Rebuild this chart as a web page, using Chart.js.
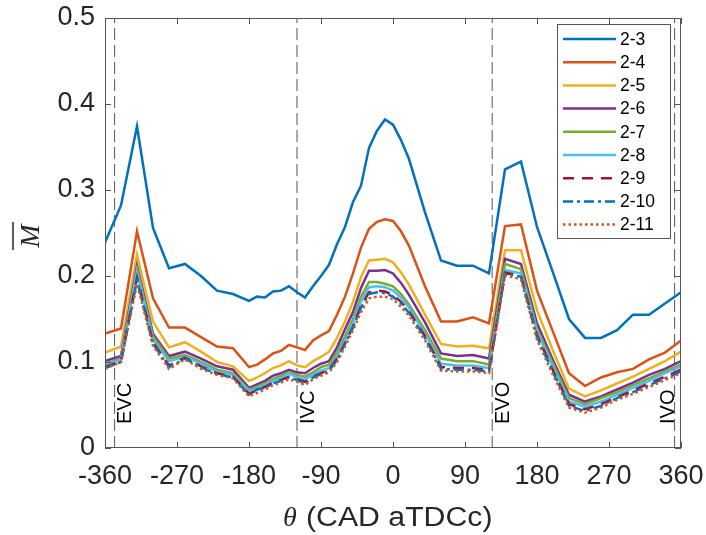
<!DOCTYPE html>
<html>
<head>
<meta charset="utf-8">
<script src="https://cdn.jsdelivr.net/npm/chart.js@4/dist/chart.umd.min.js"></script>
<style>
body{margin:0;background:#fff;}
canvas{display:block;}
</style>
</head>
<body>
<canvas id="chart" width="706" height="535"></canvas>
<script>

// crank angle (deg) for every sample
const theta = [-360,-340,-320,-300,-280,-260,-240,-220,-200,-180,-170,-160,-150,-140,-130,-120,-110,-100,-90,-80,-70,-60,-50,-40,-30,-20,-10,0,10,20,40,60,80,100,120,140,160,180,200,220,240,260,280,300,320,340,360];

const s2_3  = [0.239,0.282,0.374,0.256,0.209,0.214,0.200,0.183,0.179,0.171,0.176,0.175,0.182,0.183,0.188,0.181,0.175,0.188,0.200,0.213,0.237,0.257,0.286,0.305,0.349,0.369,0.382,0.376,0.358,0.336,0.274,0.218,0.212,0.212,0.203,0.324,0.333,0.257,0.204,0.150,0.128,0.128,0.137,0.155,0.155,0.168,0.181];
const s2_4  = [0.133,0.139,0.252,0.174,0.140,0.140,0.129,0.118,0.116,0.094,0.097,0.103,0.110,0.113,0.120,0.117,0.114,0.125,0.131,0.136,0.155,0.176,0.203,0.233,0.255,0.263,0.266,0.264,0.252,0.235,0.188,0.147,0.147,0.152,0.145,0.258,0.260,0.183,0.135,0.087,0.072,0.082,0.088,0.092,0.103,0.111,0.125];
const s2_5  = [0.111,0.118,0.225,0.147,0.117,0.123,0.112,0.100,0.095,0.078,0.082,0.087,0.093,0.096,0.101,0.096,0.094,0.101,0.106,0.112,0.128,0.147,0.170,0.199,0.218,0.219,0.220,0.216,0.204,0.190,0.155,0.121,0.118,0.119,0.116,0.230,0.230,0.160,0.113,0.069,0.060,0.067,0.075,0.083,0.092,0.101,0.112];
const s2_6  = [0.101,0.107,0.212,0.133,0.107,0.112,0.104,0.095,0.091,0.070,0.074,0.078,0.084,0.087,0.091,0.088,0.087,0.093,0.098,0.101,0.117,0.138,0.158,0.186,0.206,0.206,0.207,0.203,0.192,0.178,0.146,0.110,0.107,0.108,0.104,0.220,0.214,0.145,0.102,0.062,0.054,0.060,0.068,0.076,0.085,0.092,0.101];
const s2_7  = [0.098,0.104,0.208,0.130,0.104,0.108,0.100,0.091,0.087,0.068,0.071,0.075,0.080,0.084,0.088,0.085,0.083,0.088,0.094,0.097,0.111,0.130,0.150,0.176,0.193,0.193,0.191,0.188,0.179,0.167,0.137,0.104,0.101,0.101,0.097,0.214,0.208,0.139,0.098,0.058,0.051,0.058,0.065,0.073,0.081,0.089,0.097];
const s2_8  = [0.096,0.103,0.205,0.126,0.101,0.106,0.098,0.089,0.085,0.066,0.069,0.073,0.078,0.081,0.087,0.082,0.080,0.085,0.090,0.093,0.106,0.125,0.145,0.170,0.187,0.188,0.187,0.183,0.175,0.163,0.133,0.098,0.096,0.096,0.093,0.207,0.203,0.135,0.094,0.054,0.048,0.054,0.062,0.070,0.078,0.087,0.095];
const s2_9  = [0.094,0.101,0.198,0.123,0.096,0.105,0.095,0.087,0.083,0.063,0.067,0.071,0.076,0.079,0.083,0.080,0.077,0.083,0.087,0.091,0.104,0.122,0.141,0.165,0.181,0.183,0.182,0.178,0.170,0.159,0.130,0.094,0.093,0.093,0.090,0.204,0.200,0.131,0.090,0.051,0.045,0.051,0.059,0.067,0.075,0.083,0.091];
const s2_10 = [0.093,0.100,0.195,0.121,0.094,0.104,0.094,0.086,0.082,0.062,0.068,0.070,0.075,0.078,0.082,0.079,0.075,0.082,0.086,0.090,0.102,0.121,0.140,0.163,0.179,0.181,0.180,0.176,0.168,0.157,0.128,0.092,0.091,0.091,0.089,0.203,0.199,0.129,0.088,0.049,0.043,0.049,0.058,0.065,0.073,0.081,0.089];
const s2_11 = [0.092,0.100,0.191,0.119,0.092,0.103,0.092,0.085,0.081,0.060,0.064,0.068,0.073,0.076,0.080,0.077,0.073,0.080,0.084,0.088,0.100,0.118,0.137,0.158,0.174,0.176,0.176,0.173,0.164,0.154,0.125,0.090,0.089,0.089,0.087,0.201,0.196,0.126,0.085,0.047,0.041,0.047,0.056,0.063,0.071,0.079,0.087];

const seriesNames = ["2-3","2-4","2-5","2-6","2-7","2-8","2-9","2-10","2-11"];
const seriesValues = [s2_3,s2_4,s2_5,s2_6,s2_7,s2_8,s2_9,s2_10,s2_11];
const seriesColors = ["#0072BD","#D95319","#EDB120","#7E2F8E","#77AC30","#4DBEEE","#A2142F","#0072BD","#D95319"];
const seriesDash = [[],[],[],[],[],[],[11,8],[10,4,3,4],[2.5,3]];

const xTicks = [-360,-270,-180,-90,0,90,180,270,360];
const yTicks = [0,0.1,0.2,0.3,0.4,0.5];

// valve events
const eventTheta = [-348,-120,124,352];
const eventNames = ["EVC","IVC","EVO","IVO"];

const axisColor = "#262626";
const sans = "'Liberation Sans', Arial, sans-serif";
const serif = "'Liberation Serif', 'Times New Roman', serif";

const datasets = seriesValues.map((vals,i) => ({
    label:seriesNames[i],
    data:theta.map((t,k) => ({x:t,y:vals[k]})),
    borderColor:seriesColors[i],
    borderWidth:2.5,
    borderDash:seriesDash[i],
    pointRadius:0,
    fill:false,
    order:9 - i
}));

eventTheta.forEach(t => {
    datasets.push({
        label:"",
        isEvent:true,
        data:[{x:t,y:0},{x:t,y:0.5}],
        borderColor:"#555",
        borderWidth:1,
        borderDash:[12,5],
        pointRadius:0,
        order:20
    });
});

// box, inward ticks, event labels, legend and axis titles
const decorations = {
    id:"decorations",
    afterDraw(chart){
        const ctx = chart.ctx;
        const a = chart.chartArea;
        const xs = chart.scales.x;
        const ys = chart.scales.y;

        ctx.save();
        ctx.strokeStyle = "#555";
        ctx.lineWidth = 1;
        ctx.setLineDash([]);
        ctx.strokeRect(a.left + 0.5, a.top + 0.5, a.right - a.left - 1, a.bottom - a.top - 1);

        ctx.beginPath();
        xTicks.forEach(v => {
            const px = Math.round(xs.getPixelForValue(v)) + 0.5;
            ctx.moveTo(px, a.bottom);
            ctx.lineTo(px, a.bottom - 6);
            ctx.moveTo(px, a.top);
            ctx.lineTo(px, a.top + 6);
        });
        yTicks.forEach(v => {
            const py = Math.round(ys.getPixelForValue(v)) + 0.5;
            ctx.moveTo(a.left, py);
            ctx.lineTo(a.left + 6, py);
            ctx.moveTo(a.right, py);
            ctx.lineTo(a.right - 6, py);
        });
        ctx.stroke();

        // event labels, rotated
        ctx.fillStyle = "#000";
        ctx.font = "20px " + sans;
        ctx.textBaseline = "middle";
        ctx.textAlign = "left";
        eventNames.forEach((name,i) => {
            const px = xs.getPixelForValue(eventTheta[i]);
            const off = i === 3 ? -6 : 11;
            ctx.save();
            ctx.translate(px + off, 424);
            ctx.rotate(-Math.PI / 2);
            ctx.fillText(name, 0, 0);
            ctx.restore();
        });

        // legend
        const lx = 557, ly = 24, lw = 113, lh = 214;
        ctx.fillStyle = "#fff";
        ctx.fillRect(lx, ly, lw, lh);
        ctx.strokeStyle = "#555";
        ctx.lineWidth = 1;
        ctx.strokeRect(lx + 0.5, ly + 0.5, lw, lh);
        ctx.font = "17.5px " + sans;
        ctx.fillStyle = "#000";
        chart.data.datasets.forEach((ds,i) => {
            if(ds.isEvent) return;
            const y = 39 + 23.2 * i;
            ctx.strokeStyle = ds.borderColor;
            ctx.lineWidth = 2.5;
            ctx.setLineDash(ds.borderDash);
            ctx.beginPath();
            ctx.moveTo(563, y);
            ctx.lineTo(616, y);
            ctx.stroke();
            ctx.setLineDash([]);
            ctx.fillText(ds.label, 620, y + 1);
        });

        // x title: italic theta + text (slightly widened like the original)
        ctx.textBaseline = "alphabetic";
        ctx.fillStyle = "#262626";
        ctx.font = "italic 28px " + serif;
        ctx.fillText("\u03B8", 283, 526);
        ctx.save();
        ctx.translate(306, 526);
        ctx.scale(1.12, 1);
        ctx.font = "27px " + sans;
        ctx.fillText("(CAD aTDCc)", 0, 0);
        ctx.restore();

        // y title: M with overline, rotated
        ctx.save();
        ctx.translate(39, 236);
        ctx.rotate(-Math.PI / 2);
        ctx.font = "italic 28px " + serif;
        ctx.textAlign = "center";
        ctx.fillText("M", 0, 0);
        ctx.strokeStyle = "#262626";
        ctx.lineWidth = 1.5;
        ctx.beginPath();
        ctx.moveTo(-14, -26);
        ctx.lineTo(14, -26);
        ctx.stroke();
        ctx.restore();

        ctx.restore();
    }
};

new Chart(document.getElementById("chart"), {
    type:"line",
    data:{datasets:datasets},
    options:{
        responsive:false,
        animation:false,
        devicePixelRatio:1,
        layout:{padding:{top:18,right:25,left:0,bottom:0}},
        plugins:{legend:{display:false},tooltip:{enabled:false}},
        scales:{
            x:{
                type:"linear",
                min:-360,
                max:360,
                afterBuildTicks:s => { s.ticks = xTicks.map(v => ({value:v})); },
                afterFit:s => { s.height = 87; s.paddingLeft = 0; s.paddingRight = 0; },
                grid:{display:false,drawTicks:false},
                border:{display:false},
                ticks:{
                    color:axisColor,
                    font:{size:27,family:sans},
                    padding:12,
                    maxRotation:0,
                    callback:v => String(v)
                }
            },
            y:{
                min:0,
                max:0.5,
                afterBuildTicks:s => { s.ticks = yTicks.map(v => ({value:v})); },
                afterFit:s => { s.width = 105; s.paddingTop = 0; s.paddingBottom = 0; },
                grid:{display:false,drawTicks:false},
                border:{display:false},
                ticks:{
                    color:axisColor,
                    font:{size:27,family:sans},
                    padding:10,
                    callback:v => v === 0 ? "0" : v.toFixed(1)
                }
            }
        }
    },
    plugins:[decorations]
});

</script>
</body>
</html>
